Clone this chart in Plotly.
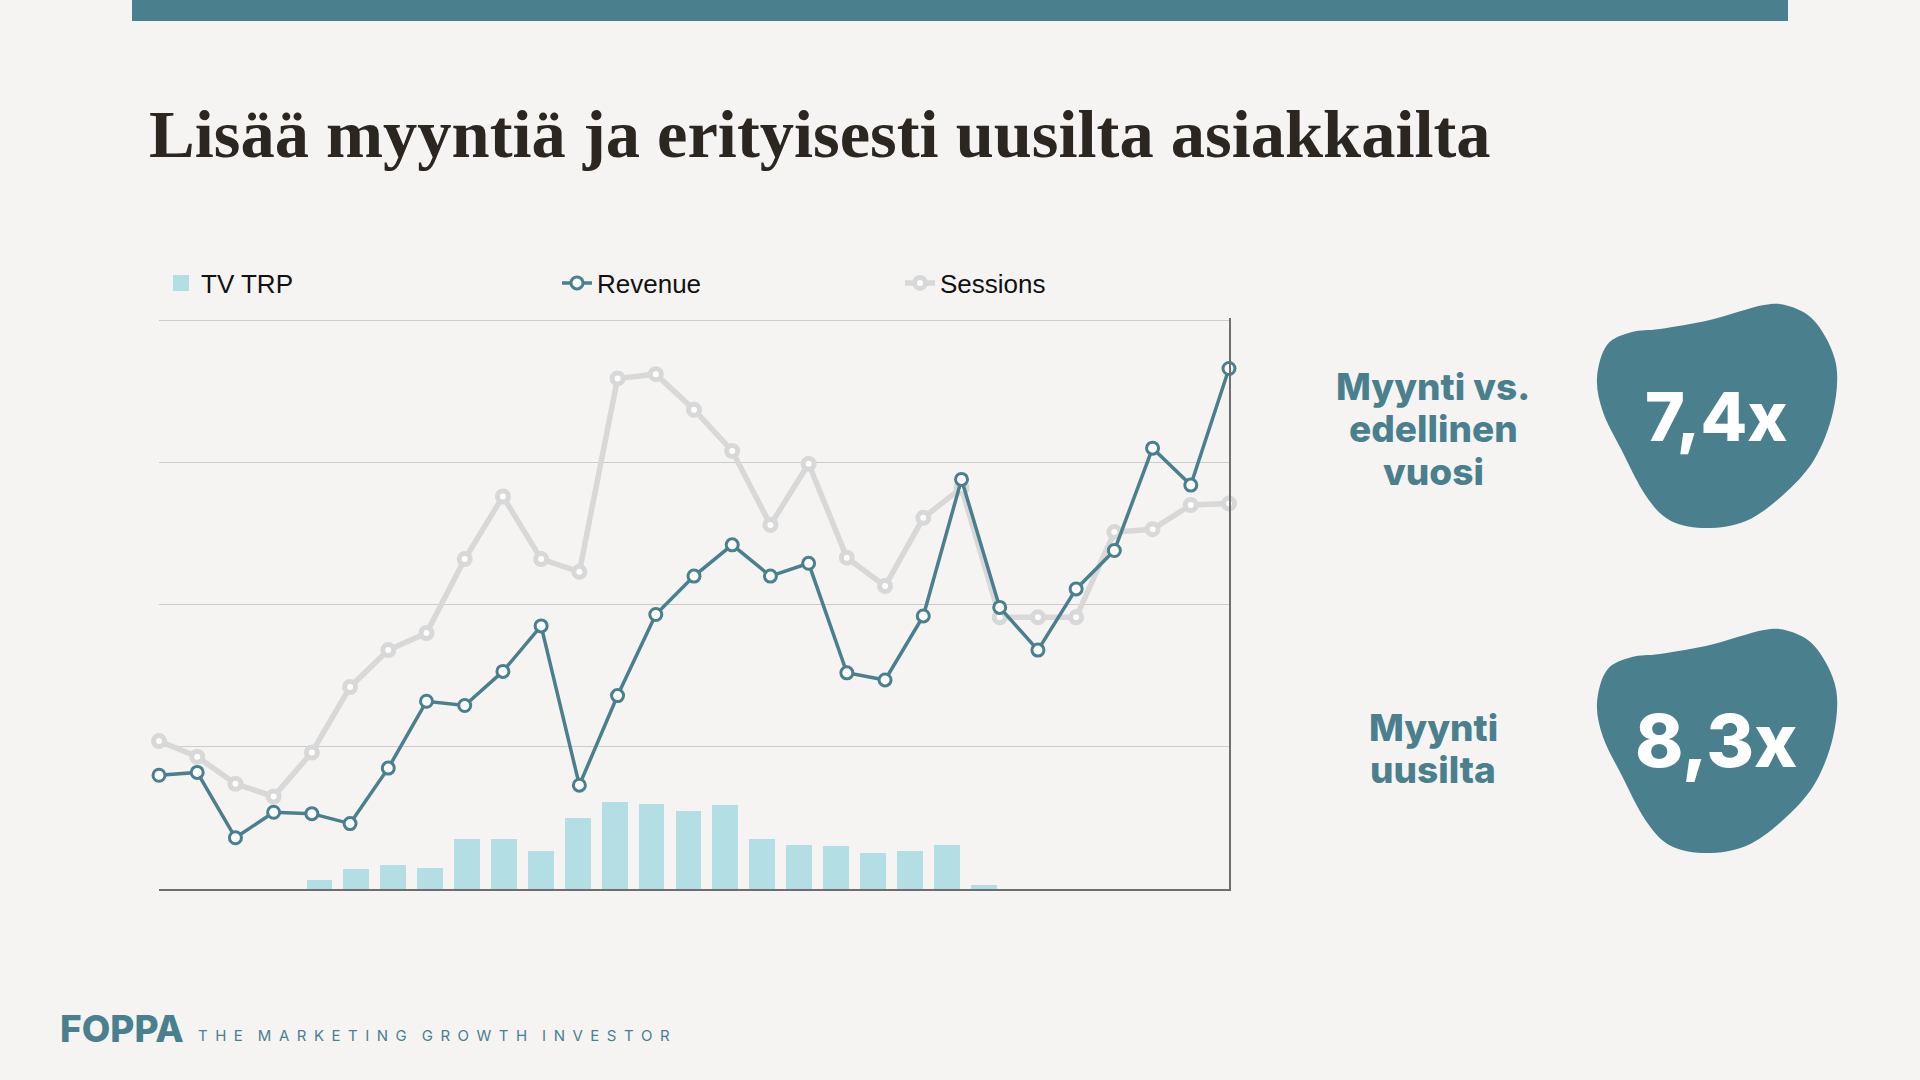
import plotly.graph_objects as go

# data (index scale: 100 = one gridline step)
weeks = list(range(1, 30))
revenue = [80, 82, 36, 54, 53, 46, 85, 132, 129, 153, 185, 73, 136, 193, 220,
           242, 220, 229, 152, 147, 192, 288, 198, 168, 211, 238, 310, 284, 366]
sessions = [104, 93, 74, 65, 96, 142, 168, 180, 232, 276, 232, 223, 359, 362, 337,
            308, 256, 299, 233, 213, 261, 282, 191, 191, 191, 251, 253, 270, 271]
tv_trp = [None, None, None, None, 6, 14, 17, 15, 35, 35, 27, 50, 61, 60, 55,
          59, 35, 31, 30, 25, 27, 31, 3, None, None, None, None, None, None]

kpi_labels = [["Myynti vs.", "edellinen", "vuosi"], ["Myynti", "uusilta"]]
kpi_values = ["7,4x", "8,3x"]

W, H = 1920, 1080
TEAL = "#4A7F8E"
BAR = "#B3DEE4"
BG = "#F5F4F2"


def px(x):
    return x / W


def py(y):
    return 1 - y / H


# blob outline (pixels, relative to its top-left corner)
blob_pts = [(1, 75), (11, 42), (36, 29), (64, 26), (114, 17), (168, 2), (196, 4),
            (221, 21), (240, 61), (237, 109), (218, 157), (186, 193), (150, 218),
            (111, 225), (75, 218), (50, 193), (25, 146), (7, 109)]


def blob_path(ox, oy):
    pts = [(ox + a, oy + b) for a, b in blob_pts]
    n = len(pts)
    d = f"M{px(pts[0][0])},{py(pts[0][1])}"
    for i in range(n):
        p0, p1, p2, p3 = pts[i - 1], pts[i], pts[(i + 1) % n], pts[(i + 2) % n]
        c1 = (p1[0] + (p2[0] - p0[0]) / 6, p1[1] + (p2[1] - p0[1]) / 6)
        c2 = (p2[0] - (p3[0] - p1[0]) / 6, p2[1] - (p3[1] - p1[1]) / 6)
        d += f" C{px(c1[0])},{py(c1[1])} {px(c2[0])},{py(c2[1])} {px(p2[0])},{py(p2[1])}"
    return d + " Z"


fig = go.Figure()
fig.add_trace(go.Bar(x=weeks, y=tv_trp, name="TV TRP", xaxis="x2", yaxis="y",
                     marker=dict(color=BAR, line=dict(width=0)),
                     width=0.7, offset=-0.5, showlegend=False))
# legend entry for the bars (bigger square than plotly's bar swatch)
fig.add_trace(go.Scatter(x=[None], y=[None], name="TV TRP", mode="markers",
                         marker=dict(symbol="square", size=19, color=BAR),
                         legend="legend"))
fig.add_trace(go.Scatter(x=weeks, y=sessions, name="Sessions", mode="lines+markers",
                         line=dict(color="#D8D8D8", width=5.5),
                         marker=dict(size=11, color="white", line=dict(color="#D8D8D8", width=5)),
                         cliponaxis=False, legend="legend3"))
fig.add_trace(go.Scatter(x=weeks, y=revenue, name="Revenue", mode="lines+markers",
                         line=dict(color=TEAL, width=3.5),
                         marker=dict(size=12, color="white", line=dict(color=TEAL, width=3)),
                         cliponaxis=False, legend="legend2"))

legend_font = dict(family="Liberation Sans", size=26, color="#111111")
leg = dict(yanchor="middle", xanchor="left", bgcolor="rgba(0,0,0,0)", font=legend_font,
           itemwidth=30)

shapes = [dict(type="rect", xref="paper", yref="paper", x0=px(132), x1=px(1788),
               y0=py(21), y1=1, fillcolor=TEAL, line=dict(width=0))]
for oy in [303, 628]:
    shapes.append(dict(type="path", xref="paper", yref="paper", path=blob_path(1596, oy),
                       fillcolor=TEAL, line=dict(width=0)))

label_font = dict(family="Inter", size=37, weight=800, color=TEAL)
annotations = [
    dict(text="Lisää myyntiä ja erityisesti uusilta asiakkailta", x=px(147), y=py(134),
         xanchor="left", yanchor="middle",
         font=dict(family="Liberation Serif", size=68.5, weight="bold", color="#2B2620")),
    dict(text=kpi_values[0], x=px(1716), y=py(416), xanchor="center", yanchor="middle",
         font=dict(family="Inter", size=68, weight=800, color="white")),
    dict(text=kpi_values[1], x=px(1716), y=py(740), xanchor="center", yanchor="middle",
         font=dict(family="Inter", size=73, weight=800, color="white")),
    dict(text="FOPPA", x=px(58), y=py(1028), xanchor="left", yanchor="middle",
         font=dict(family="Inter", size=37, weight=800, color=TEAL)),
    dict(text="\u2002\u2002".join("\u2002".join(w) for w in
                                  ["THE", "MARKETING", "GROWTH", "INVESTOR"]),
         x=px(196), y=py(1035), xanchor="left", yanchor="middle",
         font=dict(family="Inter", size=15, weight=400, color=TEAL)),
]
for lines, ys in zip(kpi_labels, [[386, 428, 471], [727, 770]]):
    for txt, yy in zip(lines, ys):
        annotations.append(dict(text=txt, x=px(1433), y=py(yy), xanchor="center",
                                yanchor="middle", font=label_font))
for a in annotations:
    a.update(xref="paper", yref="paper", showarrow=False)

fig.update_layout(
    width=W, height=H,
    margin=dict(l=0, r=0, t=0, b=0),
    paper_bgcolor=BG, plot_bgcolor=BG,
    showlegend=True,
    legend=dict(leg, x=px(161), y=py(283)),
    legend2=dict(leg, x=px(557), y=py(283)),
    legend3=dict(leg, x=px(900), y=py(283)),
    xaxis=dict(domain=[px(159), px(1229)], range=[1, 29], showgrid=False,
               showticklabels=False, showline=True, linecolor="#6E6E6E", linewidth=2,
               zeroline=False, ticks=""),
    xaxis2=dict(domain=[px(159), px(1229)], range=[0.5, 29.5], overlaying="x",
                visible=False, anchor="y"),
    yaxis=dict(domain=[py(889), py(318)], range=[0, 401.5], dtick=100, showgrid=True,
               gridcolor="#CBCBCB", gridwidth=1, side="right", showline=True,
               linecolor="#6E6E6E", linewidth=1.5, showticklabels=False,
               zeroline=False, ticks=""),
    shapes=shapes,
    annotations=annotations,
    bargap=0,
)

fig.write_html("out.html", config={"displayModeBar": False},
               post_script="document.body.style.margin='0';document.body.style.overflow='hidden';")
